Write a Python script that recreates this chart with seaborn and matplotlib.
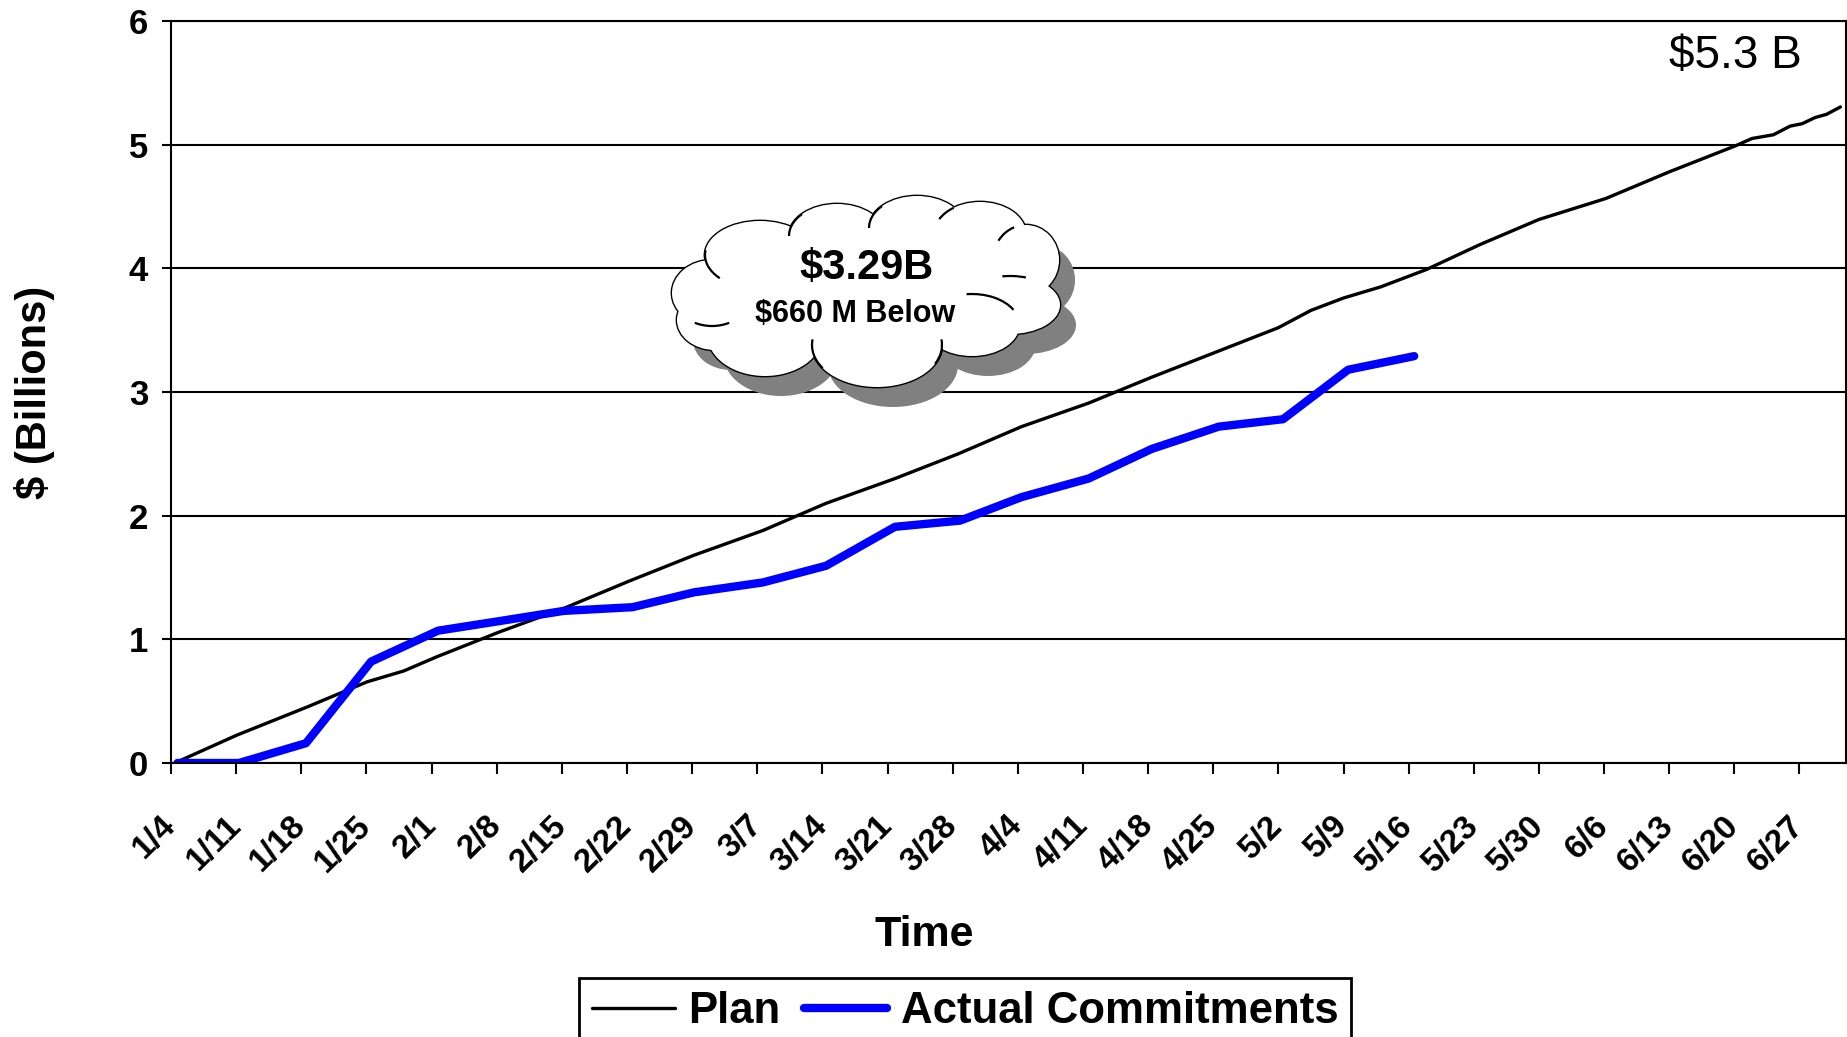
import matplotlib
matplotlib.use("Agg")
import matplotlib.pyplot as plt
from matplotlib import font_manager
import seaborn as sns
from matplotlib.patches import Ellipse, Arc

# ---------------- data ----------------
tick_labels = ["1/4", "1/11", "1/18", "1/25", "2/1", "2/8", "2/15", "2/22", "2/29",
               "3/7", "3/14", "3/21", "3/28", "4/4", "4/11", "4/18", "4/25", "5/2",
               "5/9", "5/16", "5/23", "5/30", "6/6", "6/13", "6/20", "6/27"]
tick_days = [7 * i for i in range(len(tick_labels))]

# days since 1/4
plan_days = [0.4, 7.1, 14.7, 21.1, 25.0, 28.6, 35.3, 42.2, 49.2, 56.2, 63.6, 70.4,
             77.8, 84.6, 91.4, 98.6, 105.4, 112.2, 119.0, 122.5, 126.0, 130.0, 134.9,
             140.6, 147.0, 154.2, 161.0, 168.1, 169.9, 172.2, 174.0, 175.3, 176.7,
             177.9, 179.4]
plan_vals = [0.0, 0.226, 0.455, 0.657, 0.744, 0.86, 1.06, 1.25, 1.47, 1.68, 1.88, 2.10,
             2.30, 2.50, 2.72, 2.91, 3.12, 3.32, 3.52, 3.66, 3.76, 3.85, 3.99,
             4.19, 4.395, 4.565, 4.78, 4.99, 5.05, 5.08, 5.15, 5.17, 5.22,
             5.245, 5.305]

actual_days = [0.7, 7.3, 14.5, 21.5, 28.7, 35.5, 42.2, 49.6, 56.2, 63.6, 70.4, 77.8,
               84.8, 91.4, 98.6, 105.4, 112.6, 119.5, 126.5, 133.6]
actual_vals = [0.0, 0.0, 0.16, 0.82, 1.07, 1.15, 1.23, 1.26, 1.38, 1.46, 1.595, 1.91,
               1.96, 2.15, 2.30, 2.54, 2.72, 2.78, 3.18, 3.29]

y_ticks = [0, 1, 2, 3, 4, 5, 6]

# ---------------- style ----------------
sns.set_style("white")
plt.rcParams["font.family"] = ["Liberation Sans", "DejaVu Sans"]
for k in ["text.color", "axes.labelcolor", "xtick.color", "ytick.color", "axes.edgecolor"]:
    plt.rcParams[k] = "black"

try:
    font_manager.findfont("Liberation Sans Narrow", fallback_to_default=False)
    xfam, xsize = ["Liberation Sans Narrow", "Liberation Sans"], 27
except Exception:
    xfam, xsize = ["Liberation Sans", "DejaVu Sans"], 24

W, H = 1847, 1037
fig = plt.figure(figsize=(W / 100, H / 100), dpi=100)
fig.patch.set_facecolor("white")

ax_l, ax_r, ax_t, ax_b = 171, 1846, 21, 763
ax = fig.add_axes([ax_l / W, 1 - ax_b / H, (ax_r - ax_l) / W, (ax_b - ax_t) / H])

sns.lineplot(x=plan_days, y=plan_vals, ax=ax, color="black", linewidth=2.4,
             label="Plan", sort=False, estimator=None)
sns.lineplot(x=actual_days, y=actual_vals, ax=ax, color="#0000FF", linewidth=6,
             label="Actual Commitments", sort=False, estimator=None,
             solid_capstyle="round", solid_joinstyle="round")

ax.set_xlim(0, 180)
ax.set_ylim(0, 6)
ax.set_yticks(y_ticks)
ax.set_yticklabels([str(v) for v in y_ticks], fontsize=25, fontweight="bold")
ax.set_xticks(tick_days)
ax.set_xticklabels(tick_labels, rotation=45, ha="right", va="center",
                   rotation_mode="anchor", fontsize=xsize, fontweight="bold",
                   family=xfam)

ax.yaxis.grid(True, color="black", linewidth=1.5)
ax.xaxis.grid(False)
for s in ax.spines.values():
    s.set_visible(True)
    s.set_color("black")
    s.set_linewidth(1.5)

ax.tick_params(axis="y", direction="out", length=6.5, width=1.5, pad=10,
               colors="black", left=True)
ax.tick_params(axis="x", direction="out", length=7.7, width=1.5, pad=34,
               colors="black", bottom=True)

ax.set_ylabel("$ (Billions)", fontsize=30, fontweight="bold")
ax.yaxis.set_label_coords(-0.069, 0.5)
ax.set_xlabel("Time", fontsize=31, fontweight="bold")
ax.xaxis.set_label_coords(0.4496, -0.205)

ax.text(0.9737, 0.9367, "$5.3 B", transform=ax.transAxes, ha="right",
        va="baseline", fontsize=33)

leg = ax.legend(loc="upper center", bbox_to_anchor=(965 / W, 1 - 978 / H),
                bbox_transform=fig.transFigure, ncol=2, frameon=True, fancybox=False,
                edgecolor="black", framealpha=1, prop={"size": 31.5, "weight": "bold"},
                handlelength=1.9, handletextpad=0.3, columnspacing=0.55,
                borderpad=0.3, borderaxespad=0)
leg.get_frame().set_linewidth(2)
for t in leg.get_texts():
    t.set_color("black")

# ---------------- cloud callout (pixel overlay) ----------------
ov = fig.add_axes([0, 0, 1, 1])
ov.set_xlim(0, W)
ov.set_ylim(H, 0)
ov.axis("off")
ov.patch.set_alpha(0)

lobes = [(712, 293, 80, 66), (760, 255, 110, 68), (837, 236, 96, 64),
         (917, 228, 96, 64), (980, 234, 92, 64), (1026, 260, 66, 70),
         (1010, 305, 100, 58), (972, 325, 95, 62), (877, 345, 130, 84),
         (765, 335, 115, 82), (715, 320, 76, 60), (870, 288, 300, 110)]
dx, dy = 16, 20
for (cx, cy, w, h) in lobes:
    ov.add_patch(Ellipse((cx + dx, cy + dy), w, h, facecolor="#808080",
                         edgecolor="none", zorder=1))
for (cx, cy, w, h) in lobes:
    ov.add_patch(Ellipse((cx, cy), w, h, facecolor="white", edgecolor="black",
                         linewidth=2.0, zorder=2))
for (cx, cy, w, h) in lobes:
    ov.add_patch(Ellipse((cx, cy), w, h, facecolor="white", edgecolor="none",
                         zorder=3))
# short inner creases of the cloud
creases = [(1, 150, 185), (2, 180, 212), (3, 180, 212), (4, 200, 225),
           (5, 215, 250), (6, 255, 300), (7, 260, 340), (8, 157, 185),
           (8, -5, 18), (0, 60, 120)]
for (i, t1, t2) in creases:
    cx, cy, w, h = lobes[i]
    ov.add_patch(Arc((cx, cy), w, h, theta1=t1, theta2=t2, edgecolor="black",
                     linewidth=1.6, zorder=4))

ov.text(867, 268, "$3.29B", ha="center", va="center", fontsize=30,
        fontweight="bold", zorder=5)
ov.text(855, 314, "$660 M Below", ha="center", va="center", fontsize=22,
        fontweight="bold", zorder=5)

fig.savefig("out.png", dpi=100, facecolor="white")
